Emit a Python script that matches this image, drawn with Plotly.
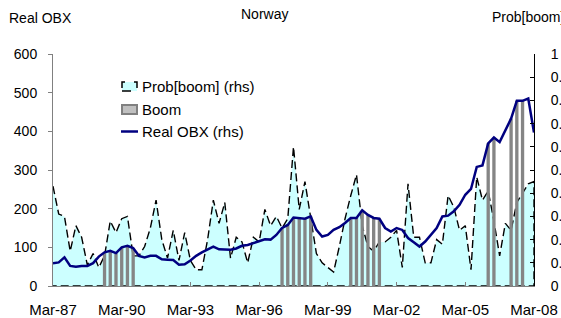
import plotly.graph_objects as go

# ---------------- data ----------------
months = ["Mar", "Jun", "Sep", "Dec"]
quarters = [f"{months[q % 4]}-{(87 + q // 4) % 100:02d}" for q in range(85)]

prob_boom = [0.43, 0.31, 0.30, 0.15, 0.26, 0.21, 0.09, 0.14, 0.08, 0.13,
             0.28, 0.23, 0.29, 0.30, 0.13, 0.13, 0.17, 0.25, 0.37, 0.20,
             0.12, 0.24, 0.11, 0.23, 0.11, 0.07, 0.07, 0.20, 0.37, 0.27,
             0.36, 0.12, 0.21, 0.19, 0.10, 0.21, 0.19, 0.33, 0.26, 0.30,
             0.25, 0.29, 0.60, 0.33, 0.45, 0.29, 0.14, 0.10, 0.08, 0.06,
             0.17, 0.29, 0.39, 0.48, 0.26, 0.17, 0.15, 0.19, 0.19, 0.21,
             0.24, 0.08, 0.44, 0.21, 0.21, 0.10, 0.10, 0.20, 0.18, 0.39,
             0.34, 0.24, 0.26, 0.07, 0.47, 0.37, 0.41, 0.28, 0.13, 0.27,
             0.24, 0.36, 0.40, 0.44, 0.45]

real_obx = [59, 61, 74, 52, 50, 52, 52, 59, 76, 87,
            91, 85, 100, 104, 98, 78, 74, 78, 78, 69,
            68, 67, 55, 56, 66, 78, 87, 94, 102, 95,
            94, 94, 97, 104, 106, 111, 115, 121, 120, 132,
            150, 158, 177, 175, 174, 180, 145, 128, 132, 145,
            152, 163, 176, 176, 196, 184, 176, 174, 150, 141,
            150, 145, 124, 113, 102, 115, 132, 150, 180, 182,
            193, 210, 236, 251, 308, 312, 369, 384, 372, 401,
            433, 479, 479, 485, 397]

boom = [0] * 85
for i in list(range(9, 15)) + list(range(40, 46)) + list(range(52, 58)) + [76, 77, 80, 81, 82]:
    boom[i] = 1

x_ticks = ["Mar-87", "Mar-90", "Mar-93", "Mar-96", "Mar-99", "Mar-02", "Mar-05", "Mar-08"]
left_ticks = [0, 100, 200, 300, 400, 500, 600]

boom_height = [v if b else None for v, b in zip(real_obx, boom)]

# ---------------- layout helpers ----------------
W, H = 561, 318
L, R, T, B = 53, 27, 54, 32
PW, PH = W - L - R, H - T - B


def X(px):
    return (px - L) / PW


def Y(py):
    return (H - B - py) / PH


FONT = "Liberation Sans, Arial, sans-serif"

fig = go.Figure()

# Prob[boom] area (closed polygon so the dashed border wraps it)
fig.add_trace(go.Scatter(
    x=quarters + quarters[::-1],
    y=prob_boom + [0] * len(prob_boom),
    fill="toself", fillcolor="#ccffff",
    mode="lines", line=dict(color="black", width=1.4, dash="8px,4px"),
    yaxis="y", showlegend=False, hoverinfo="skip",
))

# Boom bars
fig.add_trace(go.Bar(
    x=quarters, y=boom_height, yaxis="y2",
    marker=dict(color="#858585", line=dict(width=0)),
    showlegend=False,
))

# Real OBX line
fig.add_trace(go.Scatter(
    x=quarters, y=real_obx, yaxis="y2", mode="lines",
    line=dict(color="#000080", width=2.5),
    showlegend=False,
))

shapes = [
    dict(type="rect", xref="paper", yref="paper",
         x0=X(122), x1=X(137), y0=Y(91), y1=Y(82),
         fillcolor="#ccffff", line=dict(color="black", width=1.5, dash="dash")),
    dict(type="rect", xref="paper", yref="paper",
         x0=X(122), x1=X(137), y0=Y(114), y1=Y(105),
         fillcolor="#c0c0c0", line=dict(color="#808080", width=2)),
    dict(type="line", xref="paper", yref="paper",
         x0=X(121), x1=X(138), y0=Y(131.5), y1=Y(131.5),
         line=dict(color="#000080", width=2.5)),
]

annotations = []
for txt, py in [("Prob[boom] (rhs)", 86.5), ("Boom", 109.5), ("Real OBX (rhs)", 131.5)]:
    annotations.append(dict(text=txt, xref="paper", yref="paper", x=X(140), y=Y(py),
                            xanchor="left", yanchor="middle", showarrow=False,
                            font=dict(size=15, color="black", family=FONT)))
annotations += [
    dict(text="Norway", xref="paper", yref="paper", x=X(264), y=Y(14),
         xanchor="center", yanchor="middle", showarrow=False,
         font=dict(size=14, color="black", family=FONT)),
    dict(text="Real OBX", xref="paper", yref="paper", x=X(7), y=Y(18),
         xanchor="left", yanchor="middle", showarrow=False,
         font=dict(size=14, color="black", family=FONT)),
    dict(text="Prob[boom]", xref="paper", yref="paper", x=X(490), y=Y(17),
         xanchor="left", yanchor="middle", showarrow=False,
         font=dict(size=14, color="black", family=FONT)),
]

fig.update_layout(
    width=W, height=H,
    margin=dict(l=L, r=R, t=T, b=B, pad=0),
    paper_bgcolor="white", plot_bgcolor="white",
    font=dict(family=FONT, color="black"),
    bargap=0.42,
    showlegend=False,
    shapes=shapes,
    annotations=annotations,
    xaxis=dict(type="category", range=[0, 84], tickmode="array",
               tickvals=x_ticks, ticktext=x_ticks,
               ticks="inside", ticklen=4, tickcolor="#808080",
               showline=True, linecolor="#808080", linewidth=1,
               showgrid=False, zeroline=False,
               tickfont=dict(size=15), ticklabelstandoff=10, automargin=False),
    yaxis=dict(range=[0, 1], side="right", tick0=0, dtick=0.1,
               ticks="inside", ticklen=4, tickcolor="black",
               showline=True, linecolor="black", linewidth=1,
               showgrid=False, zeroline=False,
               tickfont=dict(size=14), ticklabelstandoff=13, automargin=False),
    yaxis2=dict(range=[0, 600], side="left", overlaying="y",
                tickmode="array", tickvals=left_ticks,
                ticks="outside", ticklen=4, tickcolor="#808080",
                showline=True, linecolor="#808080", linewidth=1,
                showgrid=False, zeroline=False,
                tickfont=dict(size=14), ticklabelstandoff=8, automargin=False),
)

fig.write_html(
    "out.html",
    config={"displayModeBar": False},
    post_script="document.body.style.margin='0px';document.body.style.overflow='hidden';",
)
